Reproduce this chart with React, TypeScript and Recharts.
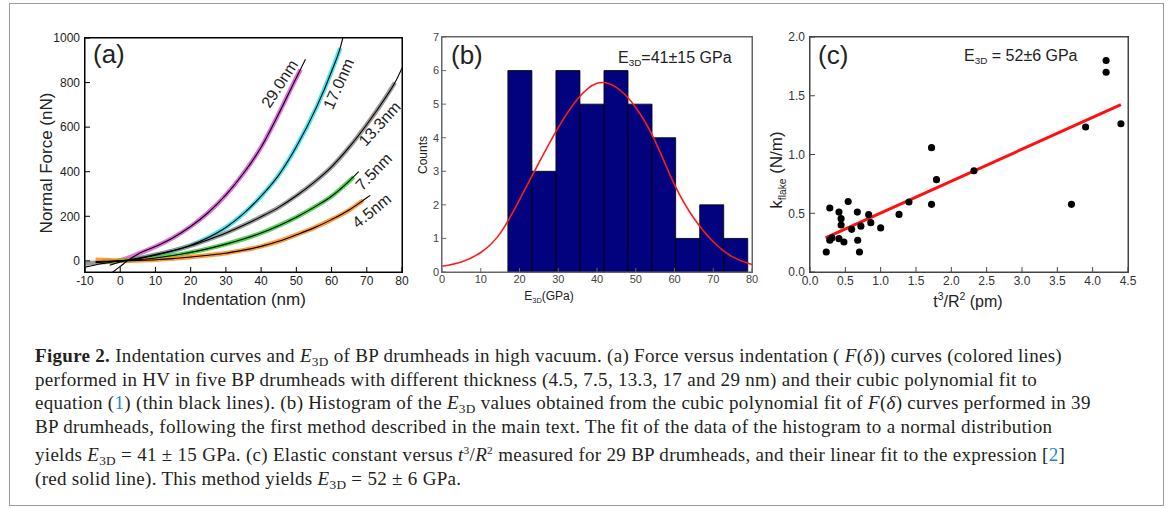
import type { ReactNode } from 'react'
import { ComposedChart, Line, Scatter, XAxis, YAxis, ZAxis, ReferenceArea, CartesianGrid } from 'recharts'

// (a) force vs indentation, [indentation nm, force nN]
const curve29 = [[-3, -8], [0, 2], [5, 31], [10, 64], [15, 104], [20, 154], [25, 217], [30, 296], [35, 393], [40, 510], [45, 660], [50, 822], [51.2, 858]]
const fit29 = [[-2.5, -55], [0, -25], [2, 0], [5, 30], [10, 64], [15, 104], [20, 154], [25, 217], [30, 296], [35, 393], [40, 510], [45, 660], [50, 822], [52.6, 905]]
const curve17 = [[-5, -3], [0, 0], [5, 10], [10, 25], [15, 45], [20, 70], [25, 105], [30, 150], [35, 212], [40, 290], [45, 385], [50, 512], [55.8, 692], [60, 850], [62.5, 955]]
const fit17 = [[-3, -20], [0, -5], [5, 9], [10, 25], [15, 45], [20, 70], [25, 105], [30, 150], [35, 212], [40, 290], [45, 385], [50, 512], [55.8, 692], [60, 850], [62.5, 958], [63.2, 1000]]
const curve13 = [[-10, -12], [-5, -6], [0, 0], [5, 12], [10, 28], [15, 46], [20, 68], [25, 95], [30, 125], [35, 160], [40, 198], [45, 240], [50, 292], [55, 352], [60, 422], [65, 510], [70, 612], [75, 725], [78, 800]]
const fit13 = [[-10, -28], [-5, -12], [0, 0], [5, 12], [10, 28], [15, 46], [20, 68], [25, 95], [30, 125], [35, 160], [40, 198], [45, 240], [50, 292], [55, 352], [60, 422], [65, 510], [70, 612], [75, 725], [78, 800], [80, 865]]
const curve7 = [[-5, -3], [0, 0], [5, 5], [10, 13], [15, 24], [20, 38], [25, 55], [30, 75], [35, 98], [40, 125], [45, 158], [50, 196], [55, 240], [60, 290], [65, 358], [66.3, 377]]
const fit7 = [[-7, -8], [0, 0], [5, 5], [10, 13], [15, 24], [20, 38], [25, 55], [30, 75], [35, 98], [40, 125], [45, 158], [50, 196], [55, 240], [60, 290], [65, 358], [67.7, 400]]
const curve4 = [[-7, 5], [-3, 3], [0, 0], [5, 2], [10, 5], [15, 10], [20, 17], [25, 25], [30, 34], [35, 48], [40, 65], [45, 88], [50, 117], [55, 148], [60, 185], [65, 228], [69, 272]]
const fit4 = [[-7, -3], [0, 0], [5, 2], [10, 5], [15, 10], [20, 17], [25, 25], [30, 34], [35, 48], [40, 65], [45, 88], [50, 117], [55, 148], [60, 185], [65, 228], [69, 272], [71, 294]]
const indentTicks = [-10, 0, 10, 20, 30, 40, 50, 60, 70, 80]
const forceTicks = [0, 200, 400, 600, 800, 1000]

// (b) histogram of E3D
const binEdges = [17.0, 23.2, 29.4, 35.6, 41.8, 48.0, 54.2, 60.3, 66.5, 72.7, 78.9]
const binCounts = [6, 3, 6, 5, 6, 5, 4, 1, 2, 1]
const normalX = [0, 5, 10, 15, 20, 25, 30, 35, 40, 45, 50, 55, 60, 65, 70, 75, 80]
const normalY = [0.17, 0.3, 0.58, 1.15, 2.15, 3.25, 4.3, 5.15, 5.62, 5.5, 4.9, 3.9, 2.6, 1.6, 0.9, 0.45, 0.22]
const gpaTicks = [0, 10, 20, 30, 40, 50, 60, 70, 80]
const countTicks = [0, 1, 2, 3, 4, 5, 6, 7]

// (c) k_flake vs t^3/R^2
const tRatio = [0.23, 0.28, 0.28, 0.31, 0.41, 0.41, 0.44, 0.44, 0.48, 0.54, 0.59, 0.67, 0.675, 0.7, 0.72, 0.83, 0.86, 1.0, 1.26, 1.4, 1.72, 1.72, 1.79, 2.32, 3.7, 3.9, 4.19, 4.19, 4.4]
const kFlake = [0.17, 0.545, 0.27, 0.29, 0.51, 0.284, 0.454, 0.4, 0.255, 0.6, 0.363, 0.51, 0.27, 0.17, 0.39, 0.488, 0.42, 0.375, 0.49, 0.596, 1.058, 0.576, 0.786, 0.862, 0.576, 1.234, 1.8, 1.7, 1.262]
const linFitX = [0.22, 4.4]
const linFitY = [0.29, 1.425]
const ratioTicks = [0, 0.5, 1, 1.5, 2, 2.5, 3, 3.5, 4, 4.5]
const kTicks = [0, 0.5, 1, 1.5, 2]

const toXY = (pairs: number[][]) => pairs.map(([x, y]) => ({ x, y }))
const zip = (xs: number[], ys: number[]) => xs.map((x, i) => ({ x, y: ys[i] }))

const sans = "'Liberation Sans', Arial, sans-serif"
const serif = "'Liberation Serif', 'DejaVu Serif', serif"

function Abs({ left, top, size, children, rotate, color = '#222' }: {
  left: number; top: number; size: number; children: ReactNode; rotate?: number; color?: string
}) {
  return (
    <div
      style={{
        position: 'absolute', left, top, fontSize: size, fontFamily: sans, color, lineHeight: 1,
        whiteSpace: 'nowrap',
        transform: rotate !== undefined ? `translate(-50%, -50%) rotate(${rotate}deg)` : undefined,
      }}
    >
      {children}
    </div>
  )
}

const sub = (t: string, size = '0.62em') => (
  <span style={{ fontSize: size, position: 'relative', top: '0.35em' }}>{t}</span>
)

// top and right edges of the plot box: one grid line each, at the plot offset
// eslint-disable-next-line @typescript-eslint/no-explicit-any
const topEdge = (p: any) => [p.offset.top]
// eslint-disable-next-line @typescript-eslint/no-explicit-any
const rightEdge = (p: any) => [p.offset.left + p.offset.width]
const boxEdges = (color: string) => (
  <CartesianGrid horizontalCoordinatesGenerator={topEdge} verticalCoordinatesGenerator={rightEdge}
    stroke={color} strokeOpacity={1} />
)

// thin box drawn over each plot area (the chart margins below put the plot area there)
function Frame({ left, top, width, height, color }: { left: number; top: number; width: number; height: number; color: string }) {
  return (
    <div style={{
      position: 'absolute', left, top, width, height, boxSizing: 'border-box',
      border: `1px solid ${color}`, pointerEvents: 'none', zIndex: 5,
    }} />
  )
}

function PanelA() {
  const series = [
    { data: curve29, fit: fit29, color: '#dd55dd' },
    { data: curve17, fit: fit17, color: '#22e0ee' },
    { data: curve13, fit: fit13, color: '#8a8a8a' },
    { data: curve7, fit: fit7, color: '#33cc33' },
    { data: curve4, fit: fit4, color: '#ff8a1a' },
  ]
  return (
    <div style={{ position: 'absolute', left: 30, top: 20 }}>
      <ComposedChart width={390} height={280} margin={{ top: 18, right: 18, bottom: 3, left: 15 }} style={{ fontFamily: sans }}>
        {boxEdges('#000')}
        <XAxis type="number" dataKey="x" domain={[-10, 80]} allowDataOverflow ticks={indentTicks} height={25}
          tickSize={-5} tickMargin={9} stroke="#000" tick={{ fill: '#222', fontSize: 12 }} />
        <YAxis type="number" domain={[-50, 1000]} allowDataOverflow ticks={forceTicks} width={40}
          tickSize={-5} tickMargin={10} stroke="#000" tick={{ fill: '#222', fontSize: 12 }} />
        {series.map((s, i) => (
          <Line key={'d' + i} data={toXY(s.data)} dataKey="y" type="monotone" stroke={s.color} strokeWidth={4.5}
            strokeOpacity={0.85} dot={false} isAnimationActive={false} />
        ))}
        {series.map((s, i) => (
          <Line key={'f' + i} data={toXY(s.fit)} dataKey="y" type="monotone"
            stroke="#000" strokeWidth={1.1} dot={false} isAnimationActive={false} />
        ))}
      </ComposedChart>
    </div>
  )
}

function PanelB() {
  return (
    <div style={{ position: 'absolute', left: 415, top: 20 }}>
      <ComposedChart width={350} height={280} margin={{ top: 17, right: 13, bottom: 8, left: 7 }} style={{ fontFamily: sans }}>
        {boxEdges('#666')}
        <XAxis type="number" dataKey="x" domain={[0, 80]} allowDataOverflow ticks={gpaTicks} height={20}
          tickSize={-4} tickMargin={7} stroke="#666" tick={{ fill: '#444', fontSize: 11 }} />
        <YAxis type="number" domain={[0, 7]} allowDataOverflow ticks={countTicks} width={20}
          tickSize={-4} tickMargin={7} stroke="#666" tick={{ fill: '#444', fontSize: 11 }} />
        {binCounts.map((c, i) => (
          <ReferenceArea key={i} x1={binEdges[i]} x2={binEdges[i + 1]} y1={0} y2={c}
            fill="#02027f" fillOpacity={1} stroke="#000" strokeWidth={0.8} />
        ))}
        <Line data={zip(normalX, normalY)} dataKey="y" type="natural" stroke="#ff1a1a"
          strokeWidth={1.6} dot={false} isAnimationActive={false} />
      </ComposedChart>
    </div>
  )
}

function PanelC() {
  return (
    <div style={{ position: 'absolute', left: 760, top: 20 }}>
      <ComposedChart width={390} height={285} margin={{ top: 17, right: 22, bottom: 8, left: 10 }} style={{ fontFamily: sans }}>
        {boxEdges('#444')}
        <XAxis type="number" dataKey="x" domain={[0, 4.5]} allowDataOverflow ticks={ratioTicks} height={25}
          tickSize={-5} tickMargin={9} stroke="#444" tick={{ fill: '#333', fontSize: 12 }}
          tickFormatter={(v: number) => v.toFixed(1)} />
        <YAxis type="number" dataKey="y" domain={[0, 2]} allowDataOverflow ticks={kTicks} width={40}
          tickSize={-5} tickMargin={10} stroke="#444" tick={{ fill: '#333', fontSize: 12 }}
          tickFormatter={(v: number) => v.toFixed(1)} />
        <ZAxis range={[40, 40]} />
        <Scatter data={zip(tRatio, kFlake)} fill="#000" isAnimationActive={false} />
        <Line data={zip(linFitX, linFitY)} dataKey="y" type="linear" stroke="#ff1010"
          strokeWidth={3} dot={false} isAnimationActive={false} />
      </ComposedChart>
    </div>
  )
}

const E3D = () => (
  <>
    <i>E</i>
    <span style={{ fontSize: '0.7em', position: 'relative', top: '0.3em' }}>3D</span>
  </>
)

function Caption() {
  const blue = { color: '#1b8ad0' }
  return (
    <div style={{
      position: 'absolute', left: 35, top: 345, fontFamily: serif, fontSize: 19, lineHeight: '22.4px',
      letterSpacing: 0.3, whiteSpace: 'nowrap', color: '#231f20',
    }}>
      <div><b>Figure 2.</b> Indentation curves and <E3D /> of BP drumheads in high vacuum. (a) Force versus indentation ( <i>F</i>(<i>δ</i>)) curves (colored lines)</div>
      <div>performed in HV in five BP drumheads with different thickness (4.5, 7.5, 13.3, 17 and 29 nm) and their cubic polynomial fit to</div>
      <div>equation (<span style={blue}>1</span>) (thin black lines). (b) Histogram of the <E3D /> values obtained from the cubic polynomial fit of <i>F</i>(<i>δ</i>) curves performed in 39</div>
      <div>BP drumheads, following the first method described in the main text. The fit of the data of the histogram to a normal distribution</div>
      <div>yields <E3D /> = 41 ± 15 GPa. (c) Elastic constant versus <i>t</i><sup style={{ fontSize: '0.6em' }}>3</sup>/<i>R</i><sup style={{ fontSize: '0.6em' }}>2</sup> measured for 29 BP drumheads, and their linear fit to the expression [<span style={blue}>2</span>]</div>
      <div>(red solid line). This method yields <E3D /> = 52 ± 6 GPa.</div>
    </div>
  )
}

export default function App() {
  return (
    <div style={{ position: 'relative', width: 1171, height: 508, background: '#fff', overflow: 'hidden' }}>
      <style>{'body{margin:0}'}</style>
      <div style={{ position: 'absolute', left: 9, top: 3, width: 1153, height: 501, border: '1px solid #9a9a9a' }} />
      <PanelA />
      <PanelB />
      <PanelC />
      <Frame left={84} top={37} width={319} height={236} color="#000" />
      <Frame left={441} top={36} width={312} height={237} color="#666" />
      <Frame left={809} top={36} width={320} height={237} color="#444" />

      {/* panel (a) text */}
      <Abs left={93} top={41} size={26}>(a)</Abs>
      <Abs left={46} top={163} size={17} rotate={-90}>Normal Force (nN)</Abs>
      <Abs left={244} top={299} size={17} rotate={0}>Indentation (nm)</Abs>
      <Abs left={280} top={84} size={16} rotate={-57}>29.0nm</Abs>
      <Abs left={339} top={84} size={16} rotate={-66}>17.0nm</Abs>
      <Abs left={380} top={124} size={16} rotate={-48}>13.3nm</Abs>
      <Abs left={374} top={172} size={16} rotate={-46}>7.5nm</Abs>
      <Abs left={372} top={211} size={16} rotate={-39}>4.5nm</Abs>

      {/* panel (b) text */}
      <Abs left={451} top={42} size={26}>(b)</Abs>
      <Abs left={618} top={50} size={16}>E{sub('3D')}=41±15 GPa</Abs>
      <Abs left={423} top={155} size={12} rotate={-90}>Counts</Abs>
      <Abs left={549} top={296} size={12} rotate={0}>E{sub('3D')}(GPa)</Abs>

      {/* panel (c) text */}
      <Abs left={818} top={42} size={26}>(c)</Abs>
      <Abs left={964} top={48} size={16}>E{sub('3D')} = 52±6 GPa</Abs>
      <Abs left={776} top={170} size={17} rotate={-90}>k{sub('flake', '0.6em')} (N/m)</Abs>
      <Abs left={968} top={301} size={16} rotate={0}>t<sup style={{ fontSize: '0.65em' }}>3</sup>/R<sup style={{ fontSize: '0.65em' }}>2</sup> (pm)</Abs>

      <Caption />
    </div>
  )
}
